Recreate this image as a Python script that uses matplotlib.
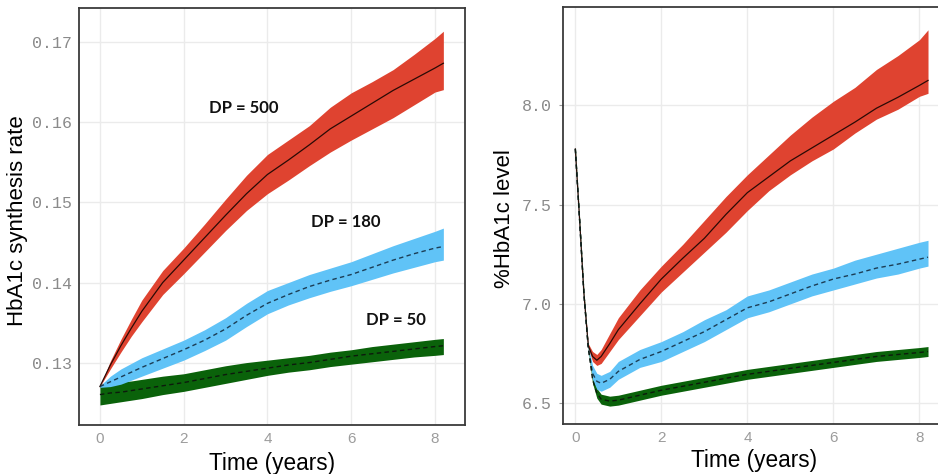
import matplotlib
matplotlib.use("Agg")
import matplotlib.pyplot as plt

# data
# left panel: HbA1c synthesis rate
left_t = [0, 0.25, 0.5, 0.75, 1.0, 1.5, 2, 2.5, 3, 3.5, 4, 4.5, 5, 5.5, 6, 6.5, 7, 7.5, 8, 8.2]

red_l_mean = [0.1270, 0.1297, 0.1321, 0.1343, 0.1364, 0.1400, 0.1428, 0.1456, 0.1484, 0.1511,
              0.1535, 0.1553, 0.1572, 0.1592, 0.1608, 0.1624, 0.1640, 0.1654, 0.1668, 0.1674]
red_l_hi = [0.1270, 0.1302, 0.1329, 0.1354, 0.1378, 0.1415, 0.1443, 0.1473, 0.1504, 0.1534,
            0.1560, 0.1578, 0.1596, 0.1619, 0.1637, 0.1651, 0.1666, 0.1685, 0.1705, 0.1714]
red_l_lo = [0.1270, 0.1292, 0.1313, 0.1333, 0.1351, 0.1385, 0.1411, 0.1438, 0.1465, 0.1490,
            0.1511, 0.1528, 0.1546, 0.1563, 0.1578, 0.1592, 0.1606, 0.1622, 0.1638, 0.1641]

blue_l_mean = [0.1270, 0.1276, 0.1282, 0.1288, 0.1294, 0.1305, 0.1316, 0.1328, 0.1342, 0.1359,
               0.1374, 0.1385, 0.1395, 0.1403, 0.1410, 0.1419, 0.1428, 0.1436, 0.1443, 0.1445]
blue_l_hi = [0.1271, 0.1283, 0.1292, 0.1299, 0.1306, 0.1317, 0.1328, 0.1341, 0.1356, 0.1374,
             0.1390, 0.1400, 0.1410, 0.1418, 0.1426, 0.1436, 0.1446, 0.1455, 0.1464, 0.1468]
blue_l_lo = [0.1269, 0.1270, 0.1273, 0.1278, 0.1283, 0.1293, 0.1303, 0.1315, 0.1328, 0.1345,
             0.1361, 0.1372, 0.1381, 0.1389, 0.1396, 0.1404, 0.1412, 0.1419, 0.1426, 0.1428]

green_l_mean = [0.1260, 0.1262, 0.1263, 0.1265, 0.1267, 0.1271, 0.1275, 0.1280, 0.1285, 0.1289,
                0.1293, 0.1297, 0.1300, 0.1304, 0.1308, 0.1311, 0.1314, 0.1317, 0.1320, 0.1321]
green_l_hi = [0.1273, 0.1274, 0.1276, 0.1277, 0.1279, 0.1283, 0.1286, 0.1291, 0.1296, 0.1300,
              0.1303, 0.1306, 0.1309, 0.1313, 0.1316, 0.1320, 0.1323, 0.1326, 0.1329, 0.1330]
green_l_lo = [0.1247, 0.1249, 0.1251, 0.1253, 0.1255, 0.1260, 0.1264, 0.1269, 0.1274, 0.1279,
              0.1284, 0.1288, 0.1291, 0.1295, 0.1298, 0.1301, 0.1304, 0.1307, 0.1309, 0.1310]

# right panel: %HbA1c level
right_t = [0, 0.1, 0.2, 0.3, 0.4, 0.5, 0.6, 0.8, 1.0, 1.5, 2, 2.5, 3, 3.5, 4, 4.5,
           5, 5.5, 6, 6.5, 7, 7.5, 8, 8.2]

red_r_mean = [7.78, 7.42, 7.05, 6.79, 6.735, 6.716, 6.735, 6.80, 6.87, 7.00, 7.125, 7.23,
              7.33, 7.45, 7.56, 7.64, 7.72, 7.785, 7.85, 7.915, 7.985, 8.04, 8.10, 8.125]
red_r_hi = [7.78, 7.42, 7.05, 6.80, 6.76, 6.745, 6.77, 6.85, 6.93, 7.07, 7.19, 7.30,
            7.42, 7.54, 7.65, 7.75, 7.85, 7.94, 8.02, 8.09, 8.18, 8.25, 8.33, 8.38]
red_r_lo = [7.78, 7.42, 7.05, 6.78, 6.71, 6.69, 6.70, 6.76, 6.82, 6.94, 7.06, 7.16,
            7.26, 7.36, 7.47, 7.57, 7.65, 7.72, 7.78, 7.86, 7.93, 7.98, 8.045, 8.06]

blue_r_mean = [7.78, 7.42, 7.05, 6.78, 6.65, 6.61, 6.60, 6.62, 6.66, 6.72, 6.76, 6.81,
               6.86, 6.92, 6.98, 7.01, 7.05, 7.09, 7.125, 7.15, 7.18, 7.20, 7.225, 7.235]
blue_r_hi = [7.78, 7.42, 7.05, 6.79, 6.69, 6.65, 6.64, 6.66, 6.71, 6.77, 6.81, 6.86,
             6.92, 6.97, 7.04, 7.07, 7.11, 7.15, 7.18, 7.22, 7.25, 7.28, 7.31, 7.32]
blue_r_lo = [7.78, 7.42, 7.05, 6.77, 6.62, 6.57, 6.56, 6.58, 6.62, 6.68, 6.71, 6.76,
             6.81, 6.87, 6.93, 6.96, 7.00, 7.04, 7.07, 7.10, 7.13, 7.15, 7.18, 7.19]

green_r_mean = [7.78, 7.42, 7.05, 6.78, 6.62, 6.55, 6.52, 6.51, 6.515, 6.54, 6.565, 6.585,
                6.605, 6.625, 6.645, 6.66, 6.675, 6.69, 6.705, 6.72, 6.735, 6.745, 6.755, 6.76]
green_r_hi = [7.79, 7.43, 7.06, 6.79, 6.64, 6.575, 6.545, 6.535, 6.54, 6.565, 6.59, 6.61,
              6.63, 6.65, 6.67, 6.685, 6.70, 6.715, 6.73, 6.745, 6.76, 6.77, 6.78, 6.785]
green_r_lo = [7.77, 7.41, 7.04, 6.77, 6.60, 6.525, 6.495, 6.485, 6.49, 6.515, 6.54, 6.56,
              6.58, 6.60, 6.62, 6.635, 6.65, 6.665, 6.68, 6.695, 6.71, 6.72, 6.73, 6.735]

labels = ["DP = 500", "DP = 180", "DP = 50"]
label_pos = [(3.44, 0.1618), (5.87, 0.14755), (7.06, 0.13534)]

RED = "#df4330"
BLUE = "#60c3f7"
GREEN = "#0a620a"
dash = (0, (3.2, 2.4))

fig = plt.figure(figsize=(9.38, 4.74), dpi=100)
ax1 = fig.add_axes([0.0842, 0.1034, 0.4115, 0.8797])
ax2 = fig.add_axes([0.5997, 0.1055, 0.408, 0.879])


def style_axes(ax, ticklen):
    ax.grid(True, color="#ebebeb", lw=1.0)
    ax.set_axisbelow(True)
    for s in ax.spines.values():
        s.set_color("#3a3a3a")
        s.set_linewidth(1.3)
    ax.tick_params(axis="y", length=ticklen, color="#9a9a9a", pad=5,
                   labelsize=12, labelcolor="#8a8a8a")
    ax.tick_params(axis="x", length=0, pad=5, labelsize=11, labelcolor="#9c9c9c")
    for lab in ax.get_yticklabels():
        lab.set_fontfamily("Liberation Mono")
    for lab in ax.get_xticklabels():
        lab.set_fontfamily("Liberation Sans")


# left panel
ax1.fill_between(left_t, green_l_lo, green_l_hi, color=GREEN, lw=0)
ax1.fill_between(left_t, blue_l_lo, blue_l_hi, color=BLUE, lw=0)
ax1.fill_between(left_t, red_l_lo, red_l_hi, color=RED, lw=0)
ax1.plot(left_t, red_l_mean, color="#2a0a05", lw=0.9)
ax1.plot(left_t, blue_l_mean, color="#1c3d55", lw=1.0, ls=dash)
ax1.plot(left_t, green_l_mean, color="#0d1a0d", lw=1.0, ls=dash)
for txt, (x, y) in zip(labels, label_pos):
    ax1.text(x, y, txt, ha="center", va="center", fontsize=12,
             fontweight="bold", family="Lato", color="#111111")
ax1.set_xlim(-0.5, 8.716)
ax1.set_ylim(0.1222, 0.1743)
ax1.set_xticks([0, 2, 4, 6, 8])
ax1.set_yticks([0.13, 0.14, 0.15, 0.16, 0.17])
ax1.set_yticklabels(["0.13", "0.14", "0.15", "0.16", "0.17"])
style_axes(ax1, 0)
ax1.set_xlabel("Time (years)", fontsize=16.3, family="Liberation Sans", va="center")
ax1.set_ylabel("HbA1c synthesis rate", fontsize=16, family="Liberation Sans", va="center")
ax1.xaxis.set_label_coords(0.5, -0.092)
ax1.yaxis.set_label_coords(-0.158, 0.489)

# right panel
ax2.fill_between(right_t, green_r_lo, green_r_hi, color=GREEN, lw=0)
ax2.fill_between(right_t, blue_r_lo, blue_r_hi, color=BLUE, lw=0)
ax2.fill_between(right_t, red_r_lo, red_r_hi, color=RED, lw=0)
ax2.plot(right_t, red_r_mean, color="#2a0a05", lw=0.9)
ax2.plot(right_t, blue_r_mean, color="#1c3d55", lw=1.0, ls=dash)
ax2.plot(right_t, green_r_mean, color="#0d1a0d", lw=1.0, ls=dash)
ax2.set_xlim(-0.298, 8.6)
ax2.set_ylim(6.395, 8.493)
ax2.set_xticks([0, 2, 4, 6, 8])
ax2.set_yticks([6.5, 7.0, 7.5, 8.0])
ax2.set_yticklabels(["6.5", "7.0", "7.5", "8.0"])
style_axes(ax2, 3)
ax2.set_xlabel("Time (years)", fontsize=16.3, family="Liberation Sans", va="center")
ax2.set_ylabel("%HbA1c level", fontsize=16, family="Liberation Sans", va="center")
ax2.xaxis.set_label_coords(0.5, -0.088)
ax2.yaxis.set_label_coords(-0.152, 0.494)

fig.savefig("out.png", dpi=100)
